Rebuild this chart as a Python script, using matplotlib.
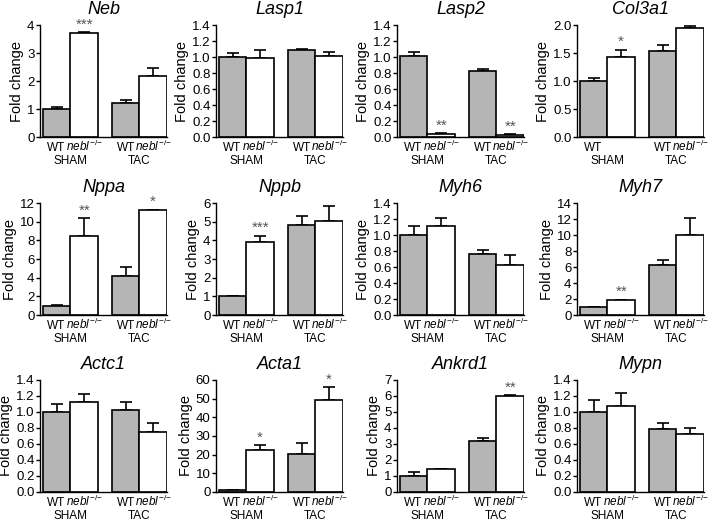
import matplotlib
matplotlib.use('Agg')
import matplotlib.pyplot as plt
import numpy as np

plt.rcParams['font.family'] = ['Liberation Sans', 'DejaVu Sans']
plt.rcParams['mathtext.fontset'] = 'custom'
plt.rcParams['mathtext.it'] = 'Liberation Sans:italic'
plt.rcParams['mathtext.rm'] = 'Liberation Sans'

# genes and values (mean, upper SEM)
genes = ['Neb', 'Lasp1', 'Lasp2', 'Col3a1',
         'Nppa', 'Nppb', 'Myh6', 'Myh7',
         'Actc1', 'Acta1', 'Ankrd1', 'Mypn']
wt_sham = [1.0, 1.0, 1.01, 1.0, 1.0, 1.02, 1.0, 1.0, 1.0, 1.0, 1.0, 1.0]
wt_sham_err = [0.07, 0.05, 0.05, 0.06, 0.1, 0.02, 0.11, 0.05, 0.1, 0.1, 0.28, 0.15]
ko_sham = [3.72, 0.99, 0.04, 1.42, 8.5, 3.9, 1.11, 1.85, 1.12, 22.5, 1.42, 1.07]
ko_sham_err = [0.03, 0.1, 0.005, 0.14, 1.9, 0.35, 0.1, 0.05, 0.1, 2.5, 0.02, 0.17]
wt_tac = [1.22, 1.09, 0.83, 1.54, 4.15, 4.82, 0.76, 6.25, 1.03, 20.2, 3.2, 0.79]
wt_tac_err = [0.1, 0.01, 0.02, 0.1, 0.95, 0.5, 0.05, 0.6, 0.09, 6.3, 0.18, 0.07]
ko_tac = [2.18, 1.01, 0.03, 1.94, 11.2, 5.05, 0.63, 10.0, 0.75, 49.5, 6.0, 0.73]
ko_tac_err = [0.27, 0.05, 0.005, 0.04, 0.1, 0.78, 0.12, 2.1, 0.11, 6.5, 0.05, 0.07]
stars_ko_sham = ['***', '', '**', '*', '**', '***', '', '**', '', '*', '', '']
stars_ko_tac = ['', '', '**', '', '*', '', '', '', '', '*', '**', '']
ymax = [4, 1.4, 1.4, 2.0, 12, 6, 1.4, 14, 1.4, 60, 7, 1.4]
ystep = [1, 0.2, 0.2, 0.5, 2, 1, 0.2, 2, 0.2, 10, 1, 0.2]

ko = r'$\mathit{nebl}^{\!-\!/\!-}$'
xlabels = [['WT', ko, 'WT', ko] for g in genes]
xlabels[3] = ['WT', '', 'WT', ko]   # Col3a1 misses the SHAM nebl label

pos = [0, 1, 2.5, 3.5]
gray = '#b5b5b5'

fig = plt.figure(figsize=(7.2, 5.22), dpi=100)
lefts = [40, 216, 397, 577]
bottoms = [137, 315, 492]

for i, g in enumerate(genes):
    r, c = divmod(i, 4)
    ax = fig.add_axes([lefts[c] / 720, 1 - bottoms[r] / 522, 127 / 720, 112 / 522])
    vals = [wt_sham[i], ko_sham[i], wt_tac[i], ko_tac[i]]
    errs = [wt_sham_err[i], ko_sham_err[i], wt_tac_err[i], ko_tac_err[i]]
    ax.bar(pos, vals, width=1.0, color=[gray, 'white', gray, 'white'],
           edgecolor='black', linewidth=1.2, zorder=2)
    ax.errorbar(pos, vals, yerr=[np.zeros(4), errs], fmt='none', ecolor='black',
                elinewidth=1.2, capsize=4, capthick=1.2, zorder=1)
    for x, v, e, s in [(pos[1], vals[1], errs[1], stars_ko_sham[i]),
                       (pos[3], vals[3], errs[3], stars_ko_tac[i])]:
        if s:
            ax.text(x, v + e + ymax[i] * 0.005, s, ha='center', va='bottom',
                    fontsize=11, color='#555555')
    ax.set_xlim(-0.6, 4.0)
    ax.set_ylim(0, ymax[i])
    ticks = np.arange(0, ymax[i] + ystep[i] / 2, ystep[i])
    ax.set_yticks(ticks)
    if ystep[i] < 1:
        ax.set_yticklabels(['%.1f' % t for t in ticks])
    else:
        ax.set_yticklabels(['%d' % t for t in ticks])
    ax.set_xticks([])
    ax.tick_params(axis='y', length=3, width=1, labelsize=9.5, pad=1)
    ax.spines['top'].set_visible(False)
    ax.spines['right'].set_visible(False)
    ax.spines['left'].set_linewidth(1)
    ax.spines['bottom'].set_linewidth(1)
    ax.set_ylabel('Fold change', fontsize=10.5, labelpad=2)
    ax.set_title(g, fontsize=13, style='italic', pad=8)
    # x labels drawn as text so WT and nebl share one baseline
    trans = ax.get_xaxis_transform()
    for x, lab in zip(pos, xlabels[i]):
        ax.text(x, -14 / 112, lab, transform=trans, ha='center', va='baseline',
                fontsize=8.5)
    for gx, gname in [(0.5, 'SHAM'), (3.0, 'TAC')]:
        ax.text(gx, -27 / 112, gname, transform=trans,
                ha='center', va='baseline', fontsize=8.5)

fig.savefig('out.png', dpi=100)
